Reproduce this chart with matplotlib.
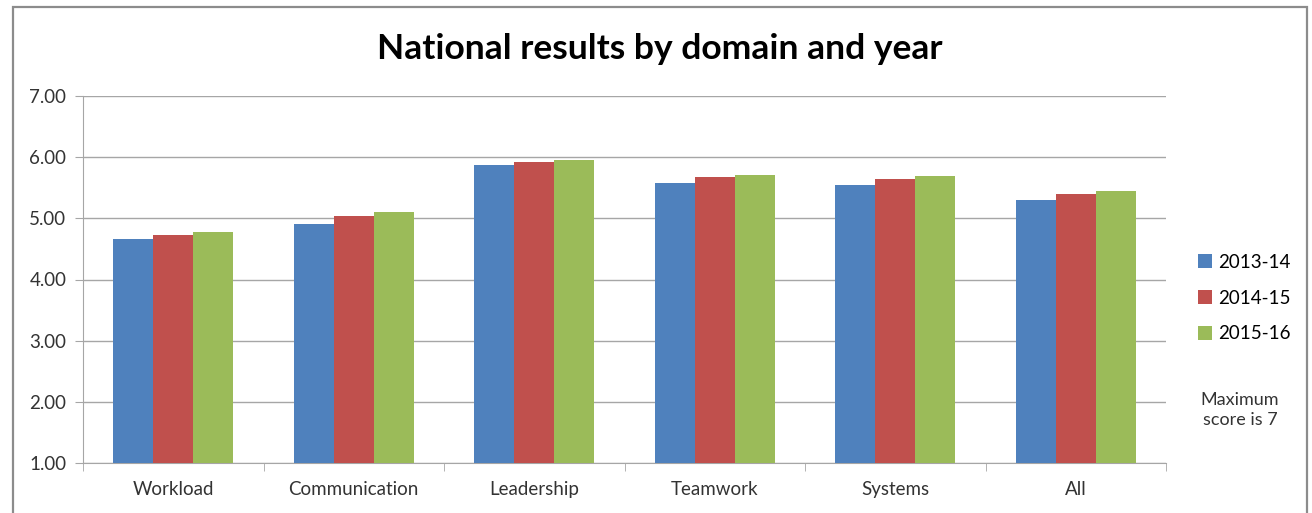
import matplotlib.pyplot as plt
import numpy as np
from matplotlib.patches import Rectangle

domains = ["Workload", "Communication", "Leadership", "Teamwork", "Systems", "All"]
years = ["2013-14", "2014-15", "2015-16"]
y2013 = [4.66, 4.90, 5.87, 5.57, 5.54, 5.30]
y2014 = [4.72, 5.04, 5.92, 5.67, 5.65, 5.40]
y2015 = [4.78, 5.11, 5.95, 5.71, 5.69, 5.45]
colors = ["#4F81BD", "#C0504D", "#9BBB59"]

plt.rcParams['font.family'] = ['Lato', 'DejaVu Sans']

W, H = 1312, 513
fig = plt.figure(figsize=(W / 100, H / 100), dpi=100)
ax = fig.add_axes([83 / W, 1 - 463 / H, (1166 - 83) / W, (463 - 96) / H])

# chart area border
fig.patches.append(Rectangle((13 / W, -0.05), (1307 - 13) / W, 1 - 7 / H + 0.05,
                             transform=fig.transFigure, fill=False,
                             edgecolor="#8c8c8c", lw=1.6))

x = np.arange(len(domains))
bw = 1 / 4.5
for i, vals in enumerate([y2013, y2014, y2015]):
    ax.bar(x + (i - 1) * bw, np.array(vals) - 1, bw, bottom=1,
           color=colors[i], label=years[i], zorder=3)

ax.set_xlim(-0.5, len(domains) - 0.5)
ax.set_ylim(1, 7)
ax.set_yticks(np.arange(1, 8))
ax.set_yticklabels(["%.2f" % v for v in np.arange(1, 8)], fontsize=13.5, color="#333333")
ax.yaxis.grid(True, color="#a6a6a6", lw=1, zorder=0)
ax.set_xticks(x)
ax.set_xticklabels(domains, fontsize=13.5, color="#333333")
ax.tick_params(axis="x", length=0, pad=13)
ax.tick_params(axis="y", length=6, color="#a6a6a6", pad=6)
ax.set_xticks(np.arange(-0.5, len(domains)), minor=True)
ax.tick_params(axis="x", which="minor", length=6, color="#a6a6a6")
for s in ["top", "right"]:
    ax.spines[s].set_visible(False)
for s in ["left", "bottom"]:
    ax.spines[s].set_color("#a6a6a6")

fig.text(660 / W, 1 - 49 / H, "National results by domain and year",
         fontsize=25.5, fontweight="bold", ha="center", va="center")

ax.legend(loc="center left", bbox_to_anchor=(1181 / W, 1 - 298 / H),
          bbox_transform=fig.transFigure, frameon=False, fontsize=13.5,
          handlelength=0.75, handleheight=0.75, handletextpad=0.35,
          labelspacing=1.0)

fig.text(1240 / W, 1 - 410 / H, "Maximum\nscore is 7", fontsize=13,
         ha="center", va="center", linespacing=1.3, color="#333333")

fig.savefig("out.png", dpi=100)
